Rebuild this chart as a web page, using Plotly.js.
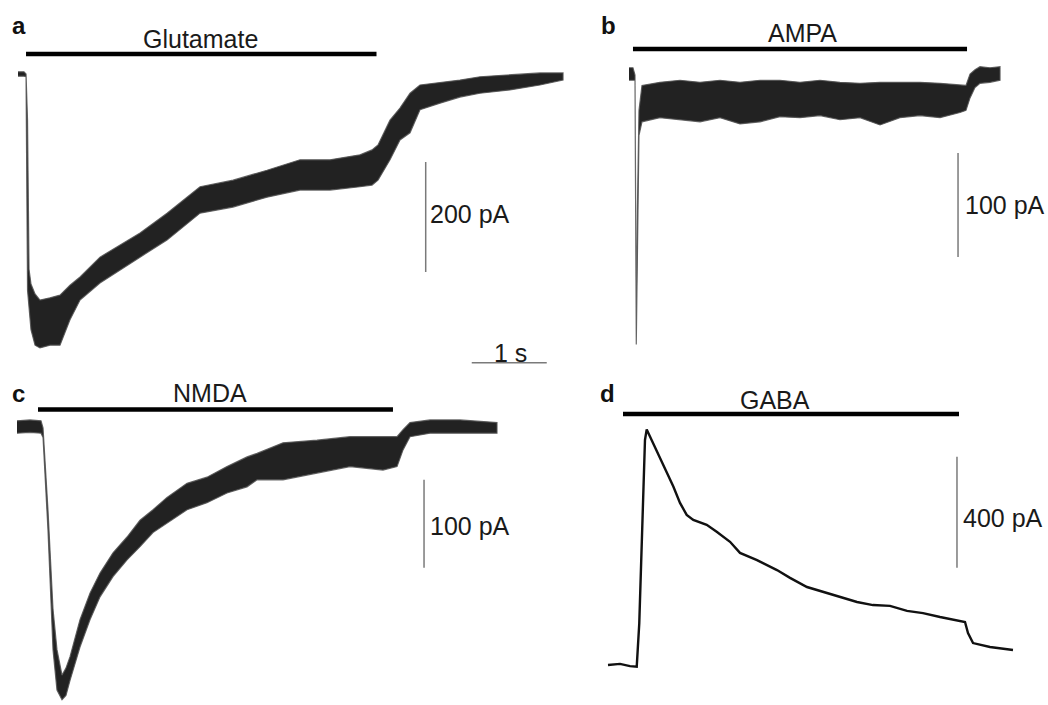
<!DOCTYPE html>
<html><head><meta charset="utf-8">
<script src="https://cdn.plot.ly/plotly-3.0.1.min.js"></script>
<style>html,body{margin:0;padding:0;background:#fff}#chart{width:1048px;height:705px}</style>
</head><body><div id="chart"></div>
<script>
// ---------- DATA (time in s, current in pA relative to baseline) ----------
// Panel a: Glutamate (noise envelope: upper / lower edge of trace)
const aTime   = [0, 0.08, 0.107, 0.127, 0.147, 0.173, 0.227, 0.293, 0.427, 0.56, 0.693, 0.827, 1.093, 1.36, 1.627, 1.987, 2.427, 2.867, 3.32, 3.76, 4.16, 4.56, 4.72, 4.8, 4.96, 5.093, 5.227, 5.36, 5.627, 5.893, 6.16, 6.56, 6.96, 7.267];
const aUpper  = [4, 4, 0, -84, -355, -382, -400, -411, -407, -402, -384, -369, -333, -311, -289, -253, -205, -193, -175, -156, -156, -147, -138, -129, -84, -62, -35, -20, -16, -11, -5, -2, 2, 2];
const aLower  = [-4, -4, -5, -393, -429, -465, -493, -498, -493, -493, -447, -411, -380, -356, -333, -302, -253, -242, -224, -211, -211, -205, -202, -193, -156, -120, -107, -65, -53, -42, -35, -29, -20, -11];

// Panel b: AMPA
const bTime   = [0, 0.053, 0.08, 0.097, 0.113, 0.133, 0.173, 0.413, 0.68, 0.947, 1.213, 1.48, 1.747, 2.013, 2.28, 2.547, 2.813, 3.08, 3.347, 3.613, 3.88, 4.147, 4.413, 4.493, 4.547, 4.613, 4.68, 4.813, 4.947];
const bUpper  = [6, 6, -1, -246, -125, -35, -11, -8, -6, -8, -6, -8, -6, -6, -8, -6, -8, -9, -8, -8, -8, -9, -10, -11, 0, 4, 7, 6, 7];
const bLower  = [-6, -6, -6, -260, -169, -59, -46, -42, -44, -46, -42, -48, -46, -41, -42, -40, -44, -42, -49, -42, -40, -42, -37, -35, -23, -13, -9, -8, -6];

// Panel c: NMDA
const cTime   = [0, 0.173, 0.32, 0.347, 0.413, 0.48, 0.533, 0.6, 0.653, 0.707, 0.84, 0.973, 1.107, 1.28, 1.467, 1.64, 1.813, 2.0, 2.267, 2.533, 2.8, 3.067, 3.2, 3.547, 4.0, 4.44, 4.88, 5.067, 5.147, 5.24, 5.507, 5.907, 6.4];
const cUpper  = [7, 8, 7, -1, -94, -207, -253, -282, -274, -261, -219, -189, -166, -143, -125, -106, -94, -80, -64, -57, -45, -34, -30, -18, -15, -11, -11, -11, -3, 5, 8, 8, 5];
const cLower  = [-7, -6, -7, -12, -117, -253, -299, -310, -305, -288, -250, -219, -193, -170, -151, -136, -120, -109, -94, -86, -75, -68, -60, -60, -52, -45, -49, -45, -26, -11, -7, -7, -7];

// Panel d: GABA (low-noise trace)
const dTime    = [0, 0.16, 0.293, 0.383, 0.417, 0.449, 0.471, 0.493, 0.516, 0.583, 0.649, 0.716, 0.783, 0.871, 0.96, 1.049, 1.137, 1.316, 1.449, 1.627, 1.76, 1.987, 2.253, 2.427, 2.653, 2.867, 3.093, 3.32, 3.533, 3.76, 3.987, 4.2, 4.427, 4.653, 4.76, 4.8, 4.867, 5.093, 5.4];
const dCurrent = [0, 4, -4, -6, 151, 450, 692, 811, 849, 811, 769, 733, 697, 643, 584, 541, 523, 505, 480, 444, 404, 378, 342, 314, 281, 263, 245, 227, 216, 213, 195, 187, 173, 162, 155, 115, 79, 65, 54];

// Drug applications
const panelLetters = ['a', 'b', 'c', 'd'];
const drugNames    = ['Glutamate', 'AMPA', 'NMDA', 'GABA'];
const drugOn       = [0.107, 0.053, 0.28, 0.2];
const drugOff      = [4.78, 4.507, 5.013, 4.68];

// Scale bars
const scaleBarPA     = [200, 100, 100, 400];
const scaleBarLabels = ['200 pA', '100 pA', '100 pA', '400 pA'];
const timeBarS = 1;
const timeBarLabel = '1 s';

// ---------- LAYOUT CALIBRATION ----------
const W = 1048, H = 705, PX_PER_S = 75;
const frames = [
  {L:0,   R:590,  T:0,   B:375, t0:18,  y0:74,  k:0.55},
  {L:590, R:1048, T:0,   B:375, t0:629, y0:74,  k:1.04},
  {L:0,   R:590,  T:375, B:705, t0:17,  y0:427, k:0.88},
  {L:590, R:1048, T:375, B:705, t0:608, y0:665, k:0.2775}
];
// placement (in each panel's own units) of bars and labels
const place = [
  {barI:36.4, nameT:2.433, nameI:62.9, sbT:5.436, sbI0:-360, lblT:5.493, lblI:-255},
  {barI:24,   nameT:2.307, nameI:39.2, sbT:4.387, sbI0:-176, lblT:4.48,  lblI:-125.5},
  {barI:19.9, nameT:2.567, nameI:38.4, sbT:5.427, sbI0:-160, lblT:5.507, lblI:-112.5},
  {barI:904.5,nameT:2.227, nameI:954,  sbT:4.653, sbI0:350,  lblT:4.733, lblI:531.5}
];
const letterPos = [[19,25],[608,25],[18,393],[607,393]];

const FONT = 'Liberation Sans, Arial, Helvetica, sans-serif';
const layout = {
  width: W, height: H, margin:{l:0,r:0,t:0,b:0},
  paper_bgcolor:'#fff', plot_bgcolor:'rgba(0,0,0,0)',
  showlegend:false, shapes:[], annotations:[],
  font:{family:FONT, color:'#1a1a1a'}
};
const ax = (i) => i === 0 ? '' : String(i+1);

frames.forEach((f, i) => {
  layout['xaxis'+ax(i)] = {domain:[f.L/W, f.R/W], range:[(f.L-f.t0)/PX_PER_S, (f.R-f.t0)/PX_PER_S],
    visible:false, fixedrange:true, anchor:'y'+ax(i)};
  layout['yaxis'+ax(i)] = {domain:[1-f.B/H, 1-f.T/H], range:[(f.y0-f.B)/f.k, (f.y0-f.T)/f.k],
    visible:false, fixedrange:true, anchor:'x'+ax(i)};
});

const traces = [];
function band(t, up, lo, i) {
  traces.push({type:'scatter', mode:'lines',
    x: t.concat(t.slice().reverse()), y: up.concat(lo.slice().reverse()),
    fill:'toself', fillcolor:'#222222', line:{color:'rgba(80,80,80,0.85)', width:1.2},
    xaxis:'x'+ax(i), yaxis:'y'+ax(i), hoverinfo:'skip'});
}
band(aTime, aUpper, aLower, 0);
band(bTime, bUpper, bLower, 1);
band(cTime, cUpper, cLower, 2);
traces.push({type:'scatter', mode:'lines', x:dTime, y:dCurrent,
  line:{color:'#111', width:2.4}, xaxis:'x4', yaxis:'y4', hoverinfo:'skip'});

const TXT = {size:25, family:FONT, color:'#1a1a1a'};
drugNames.forEach((name, i) => {
  const p = place[i], xr = 'x'+ax(i), yr = 'y'+ax(i);
  layout.shapes.push({type:'line', xref:xr, yref:yr, x0:drugOn[i], x1:drugOff[i], y0:p.barI, y1:p.barI,
    line:{color:'#000', width:4.5}});
  layout.annotations.push({xref:xr, yref:yr, x:p.nameT, y:p.nameI, text:name, showarrow:false,
    xanchor:'center', yanchor:'middle', font:TXT});
  layout.shapes.push({type:'line', xref:xr, yref:yr, x0:p.sbT, x1:p.sbT, y0:p.sbI0, y1:p.sbI0+scaleBarPA[i],
    line:{color:'#7a7a7a', width:1.5}});
  layout.annotations.push({xref:xr, yref:yr, x:p.lblT, y:p.lblI, text:scaleBarLabels[i], showarrow:false,
    xanchor:'left', yanchor:'middle', xshift:-2, font:TXT});
  layout.annotations.push({xref:'paper', yref:'paper', x:letterPos[i][0]/W, y:1-letterPos[i][1]/H,
    text:'<b>'+panelLetters[i]+'</b>', showarrow:false, xanchor:'center', yanchor:'middle',
    font:{size:24, family:FONT, color:'#111'}});
});
// time scale bar (drawn in panel a units)
layout.shapes.push({type:'line', xref:'x', yref:'y', x0:6.05, x1:6.05+timeBarS, y0:-525, y1:-525,
  line:{color:'#7a7a7a', width:1.5}});
layout.annotations.push({xref:'x', yref:'y', x:6.573, y:-508, text:timeBarLabel, showarrow:false,
  xanchor:'center', yanchor:'middle', font:TXT});

Plotly.newPlot('chart', traces, layout, {staticPlot:true, displayModeBar:false});
</script></body></html>
